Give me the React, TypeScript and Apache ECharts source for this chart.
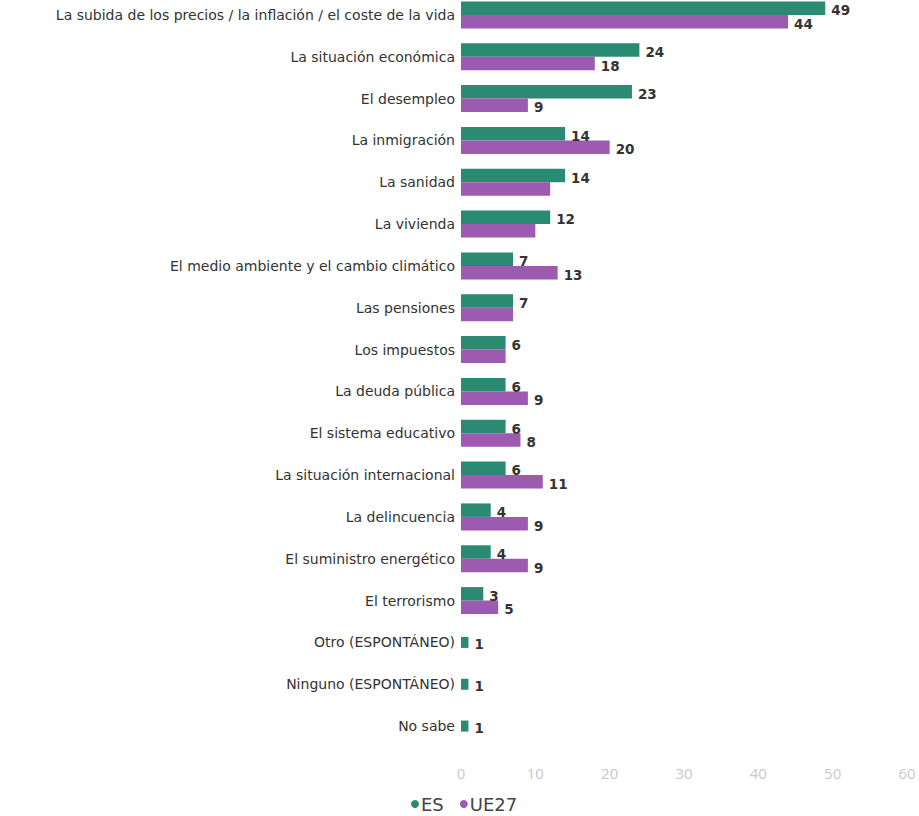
import React, { useEffect, useRef } from "react";
import * as echarts from "echarts";

const categories = [
  "La subida de los precios / la inflación / el coste de la vida",
  "La situación económica",
  "El desempleo",
  "La inmigración",
  "La sanidad",
  "La vivienda",
  "El medio ambiente y el cambio climático",
  "Las pensiones",
  "Los impuestos",
  "La deuda pública",
  "El sistema educativo",
  "La situación internacional",
  "La delincuencia",
  "El suministro energético",
  "El terrorismo",
  "Otro (ESPONTÁNEO)",
  "Ninguno (ESPONTÁNEO)",
  "No sabe",
];

const esValues = [49, 24, 23, 14, 14, 12, 7, 7, 6, 6, 6, 6, 4, 4, 3, 1, 1, 1];
const ue27Values: (number | null)[] = [44, 18, 9, 20, 12, 10, 13, 7, 6, 9, 8, 11, 9, 9, 5, null, null, null];
// UE27 labels not shown in the reference (hidden)
const ue27HiddenLabels = ["La sanidad", "La vivienda", "Las pensiones", "Los impuestos"];

const xTicks = [0, 10, 20, 30, 40, 50, 60];

const ES_COLOR = "#2b8a72";
const UE_COLOR = "#9c5bb0";

const SHIFT = 20; // container is shifted up so the first band may start above the page

export default function App() {
  const ref = useRef<HTMLDivElement>(null);

  useEffect(() => {
    if (!ref.current) return;
    const chart = echarts.init(ref.current, null, { renderer: "svg" });

    const labelStyle = {
      show: true,
      position: "right" as const,
      distance: 6,
      offset: [0, 2],
      color: "#333",
      fontWeight: "bold" as const,
      fontSize: 13.5,
      fontFamily: "DejaVu Sans",
    };

    const esPaired = esValues.map((v, i) => (ue27Values[i] == null ? null : v));
    const esSingle = esValues.map((v, i) => (ue27Values[i] == null ? v : null));
    const ueData = ue27Values.map((v, i) =>
      ue27HiddenLabels.includes(categories[i]) ? { value: v, label: { show: false } } : v
    );

    chart.setOption({
      animation: false,
      grid: { left: 461, right: 12, top: SHIFT - 6, bottom: 69, containLabel: false },
      legend: {
        data: ["ES", "UE27"],
        left: 406,
        top: SHIFT + 790,
        icon: "circle",
        itemWidth: 8,
        itemHeight: 8,
        itemGap: 16,
        textStyle: { color: "#444", fontSize: 18, fontFamily: "DejaVu Sans", padding: [0, 0, 0, -3] },
      },
      xAxis: {
        type: "value",
        min: 0,
        max: xTicks[xTicks.length - 1],
        interval: 10,
        axisLine: { show: false },
        axisTick: { show: false },
        splitLine: { show: false },
        axisLabel: { color: "#c8c8c8", fontSize: 15, margin: 18, fontFamily: "Open Sans" },
      },
      yAxis: [
        {
          type: "category",
          data: categories,
          inverse: true,
          axisLine: { show: false },
          axisTick: { show: false },
          axisLabel: { color: "#333", fontSize: 14, margin: 6, fontFamily: "DejaVu Sans" },
        },
        {
          type: "category",
          data: categories,
          inverse: true,
          show: false,
        },
      ],
      series: [
        {
          name: "ES",
          type: "bar",
          yAxisIndex: 0,
          data: esPaired,
          itemStyle: { color: ES_COLOR },
          barWidth: 13.5,
          barGap: "0%",
          label: labelStyle,
        },
        {
          name: "UE27",
          type: "bar",
          yAxisIndex: 0,
          data: ueData,
          itemStyle: { color: UE_COLOR },
          barWidth: 13.5,
          barGap: "0%",
          label: labelStyle,
        },
        {
          name: "ES",
          type: "bar",
          yAxisIndex: 1,
          data: esSingle,
          itemStyle: { color: ES_COLOR },
          barWidth: 11,
          label: labelStyle,
        },
      ],
    });

    return () => chart.dispose();
  }, []);

  return (
    <div
      ref={ref}
      style={{ width: 919, height: 816 + SHIFT, position: "absolute", left: 0, top: -SHIFT }}
    />
  );
}
